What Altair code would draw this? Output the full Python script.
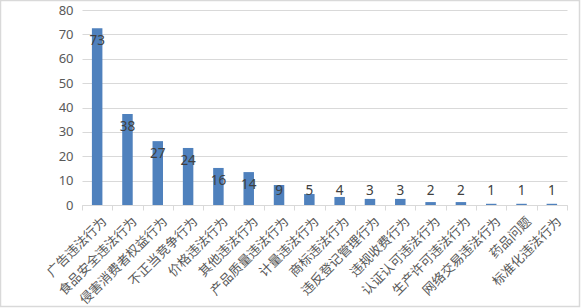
import altair as alt
import pandas as pd

categories = ["广告违法行为", "食品安全违法行为", "侵害消费者权益行为", "不正当竞争行为",
              "价格违法行为", "其他违法行为", "产品质量违法行为", "计量违法行为",
              "商标违法行为", "违反登记管理行为", "违规收费行为", "认证认可违法行为",
              "生产许可违法行为", "网络交易违法行为", "药品问题", "标准化违法行为"]
bar_values = [72.5, 37.3, 26.2, 23.4, 15.2, 13.5, 8.2, 4.5, 3.3, 2.5, 2.5, 1.2, 1.2, 0.5, 0.5, 0.5]
labels = ["73", "38", "27", "24", "16", "14", "9", "5", "4", "3", "3", "2", "2", "1", "1", "1"]
y_ticks = [0, 10, 20, 30, 40, 50, 60, 70, 80]

df = pd.DataFrame({"cat": categories, "v": bar_values, "lab": labels})

FONT_CJK = "Noto Sans CJK SC"

x_enc = alt.X("cat:N", sort=categories, title=None,
              scale=alt.Scale(paddingInner=0, paddingOuter=0),
              axis=alt.Axis(labelAngle=-45, labelAlign="right", labelBaseline="middle",
                            labelPadding=9, labelOffset=7, labelFont=FONT_CJK,
                            labelFontSize=13, labelColor="#595959",
                            tickBand="extent", tickSize=5, tickColor="#d9d9d9",
                            domainColor="#d9d9d9", grid=False, labelOverlap=False,
                            labelLimit=300))

bars = alt.Chart(df).mark_bar(size=10.5, color="#4f81bd").encode(
    x=x_enc,
    y=alt.Y("v:Q", title=None,
            scale=alt.Scale(domain=[0, 80], nice=False),
            axis=alt.Axis(values=y_ticks, tickCount=9, ticks=False,
                          domain=False, grid=True, gridColor="#d9d9d9",
                          labelFont="Noto Sans", labelFontSize=13, labelOverlap=False,
                          labelColor="#595959", labelPadding=9)),
)

texts = alt.Chart(df).transform_calculate(
    ly="max(datum.v - 5.2, 5.7)"
).mark_text(font="Noto Sans", fontSize=13.5, color="#404040",
            align="center", baseline="middle").encode(
    x=alt.X("cat:N", sort=categories),
    y=alt.Y("ly:Q"),
    text="lab:N",
)

border = alt.Chart(alt.Data(values=[{"a": 1}])).mark_rect(
    fill=None, stroke="#d9d9d9", strokeWidth=1.5, clip=False).encode(
    x=alt.value(-81.5), x2=alt.value(497.5), y=alt.value(-9.5), y2=alt.value(296.5))

chart = alt.layer(bars, texts, border).properties(
    width=485, height=195,
    padding={"left": 82, "top": 10, "right": 15, "bottom": 103},
    autosize=alt.AutoSizeParams(type="none"),
    background="white",
).configure_view(stroke=None)

chart.save("out.html", embed_options={"renderer": "svg", "actions": False})
